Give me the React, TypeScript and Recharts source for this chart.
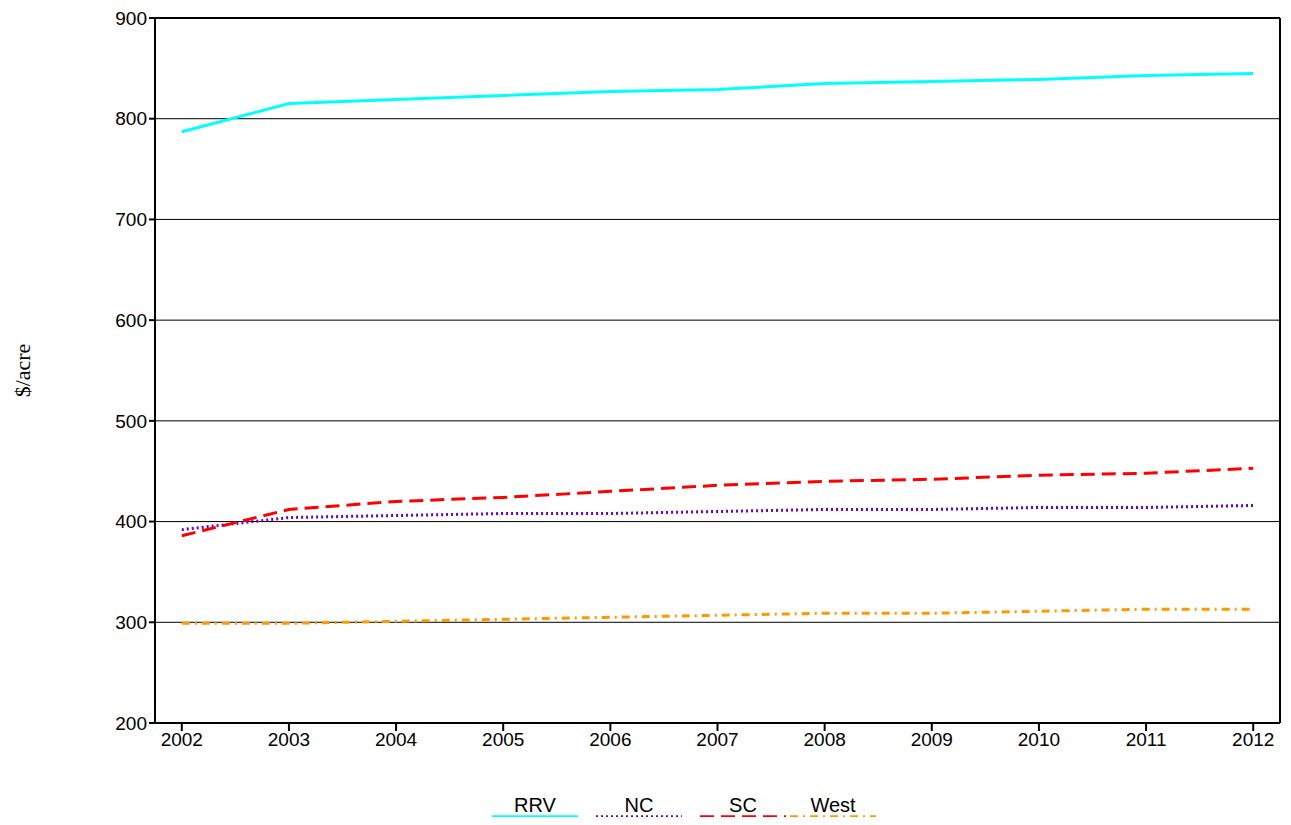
import React from "react";
import { LineChart, Line, XAxis, YAxis, CartesianGrid, ReferenceLine } from "recharts";

const years = [2002, 2003, 2004, 2005, 2006, 2007, 2008, 2009, 2010, 2011, 2012];
const rrv = [787, 815, 819, 823, 827, 829, 835, 837, 839, 843, 845];
const nc = [392, 404, 406, 408, 408, 410, 412, 412, 414, 414, 416];
const sc = [386, 412, 420, 424, 430, 436, 440, 442, 446, 448, 453];
const west = [299, 299, 301, 303, 305, 307, 309, 309, 311, 313, 313];
const yTicks = [200, 300, 400, 500, 600, 700, 800, 900];

const data = years.map((y, i) => ({ year: y, RRV: rrv[i], NC: nc[i], SC: sc[i], West: west[i] }));

const series = [
  { key: "RRV", color: "#00FFFF", dash: undefined as string | undefined, width: 3 },
  { key: "NC", color: "#6600CC", dash: "2 3", width: 3 },
  { key: "SC", color: "#FF0000", dash: "14 7", width: 3 },
  { key: "West", color: "#FF9900", dash: "8 5 2 5", width: 3 },
];
const legendX = [492, 596, 700, 790];

const font = "'Liberation Sans', Arial, sans-serif";

export default function App() {
  return (
    <div style={{ position: "relative", width: 1291, height: 825, margin: -8, background: "#fff", overflow: "hidden" }}>
      <LineChart width={1291} height={825} data={data} margin={{ top: 18, right: 11, left: 0, bottom: 52 }}>
        <CartesianGrid vertical={false} stroke="#000" strokeWidth={1} />
        <XAxis
          dataKey="year"
          type="number"
          domain={[2001.75, 2012.25]}
          ticks={years}
          allowDataOverflow
          height={50}
          stroke="#000"
          strokeWidth={2}
          tickSize={8}
          tick={{ fill: "#000", fontSize: 19, fontFamily: font }}
        />
        <YAxis
          domain={[200, 900]}
          ticks={yTicks}
          width={155}
          stroke="#000"
          strokeWidth={2}
          tickSize={6}
          tick={{ fill: "#000", fontSize: 19, fontFamily: font }}
          label={{ value: "$/acre", angle: -90, position: "insideLeft", offset: 22, style: { fontFamily: "'Liberation Serif', serif", fontSize: 22, fill: "#000", textAnchor: "middle" } }}
        />
        <ReferenceLine y={900} stroke="#000" strokeWidth={2} />
        <ReferenceLine x={2012.25} stroke="#000" strokeWidth={2} />
        {series.map((s) => (
          <Line key={s.key} dataKey={s.key} stroke={s.color} strokeWidth={s.width} strokeDasharray={s.dash} dot={false} isAnimationActive={false} type="linear" />
        ))}
      </LineChart>
      <svg style={{ position: "absolute", left: 0, top: 770, display: "block" }} width={1291} height={55} viewBox="0 0 1291 55">
        {series.map((s, i) => (
          <g key={s.key}>
            <text x={legendX[i] + 43} y={42} textAnchor="middle" fontFamily={font} fontSize={20} fill="#000">{s.key}</text>
            <path d={`M${legendX[i]},47 L${legendX[i] + 86},47`} fill="none" stroke={s.color} strokeWidth={3.5} strokeDasharray={s.dash} />
          </g>
        ))}
      </svg>
    </div>
  );
}
